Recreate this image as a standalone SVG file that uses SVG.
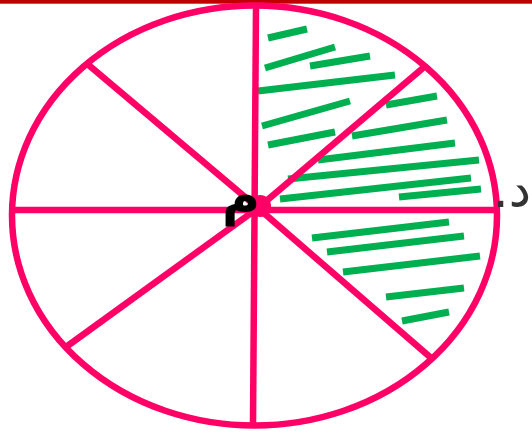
<svg xmlns="http://www.w3.org/2000/svg" width="532" height="435" viewBox="0 0 532 435">
<style>
.pk{stroke:#ff0066;fill:none;stroke-width:6.5}
.gr{stroke:#00b050;stroke-width:7;stroke-linecap:butt}
.ar{font-family:"DejaVu Sans","Noto Sans",sans-serif}
</style>
<rect x="0" y="0" width="532" height="435" fill="#ffffff"/>
<rect x="0" y="0" width="532" height="3.7" fill="#c00000"/>
<g id="hatch">
<line class="gr" x1="268" y1="38" x2="307" y2="29"/>
<line class="gr" x1="265" y1="68" x2="335" y2="47"/>
<line class="gr" x1="310" y1="66" x2="370" y2="56"/>
<line class="gr" x1="258" y1="91" x2="395" y2="75"/>
<line class="gr" x1="262" y1="126" x2="350" y2="101"/>
<line class="gr" x1="268" y1="145" x2="335" y2="132"/>
<line class="gr" x1="386" y1="105" x2="437" y2="96"/>
<line class="gr" x1="352" y1="136" x2="447" y2="120"/>
<line class="gr" x1="318" y1="160" x2="455" y2="143"/>
<line class="gr" x1="288" y1="179" x2="479" y2="160"/>
<line class="gr" x1="280" y1="199" x2="471" y2="178"/>
<line class="gr" x1="399" y1="197" x2="481" y2="189"/>
<line class="gr" x1="312" y1="238" x2="449" y2="222"/>
<line class="gr" x1="327" y1="252" x2="464" y2="236"/>
<line class="gr" x1="343" y1="272" x2="480" y2="256"/>
<line class="gr" x1="386" y1="297" x2="464" y2="288"/>
<line class="gr" x1="402" y1="321" x2="449" y2="312"/>
</g>
<g id="circle-divisions">
<ellipse class="pk" cx="254.5" cy="215.5" rx="242.5" ry="210"/>
<line class="pk" x1="12" y1="210" x2="497" y2="210"/>
<line class="pk" x1="256" y1="8" x2="253" y2="424"/>
<line class="pk" x1="258" y1="208" x2="423" y2="68"/>
<line class="pk" x1="258" y1="208" x2="85" y2="62"/>
<line class="pk" x1="258" y1="208" x2="66" y2="347"/>
<line class="pk" x1="258" y1="208" x2="430" y2="357"/>
<circle cx="260" cy="206" r="11" fill="#ff0066"/>
</g>
<g id="labels">
<text class="ar" x="241" y="214" font-size="52" font-weight="bold" text-anchor="middle" fill="#000">م</text>
<text class="ar" x="531" y="207" font-size="50" text-anchor="start" direction="rtl" fill="#333">د.</text>
</g>
</svg>
